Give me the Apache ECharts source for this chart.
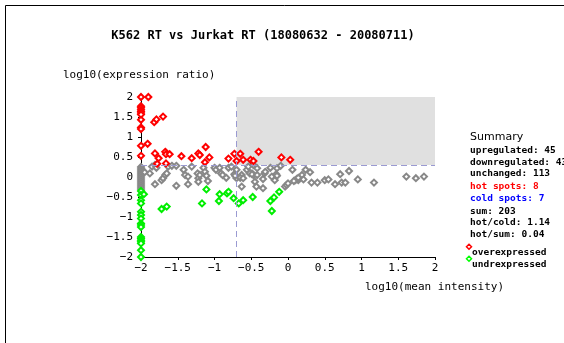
<!DOCTYPE html>
<html>
<head>
<meta charset="utf-8">
<script src="https://cdn.jsdelivr.net/npm/echarts@6/dist/echarts.min.js"></script>
<style>
  html, body { margin: 0; padding: 0; background: #fff; }
  #chart { width: 564px; height: 343px; }
</style>
</head>
<body>
<div id="chart"></div>
<script>
// Overexpressed spots (log10 mean intensity, log10 expression ratio)
const upX = [-2, -2, -2, -2, -2, -2, -2, -2, -2, -2, -2, -2,
  -1.90, -1.82, -1.79, -1.70, -1.91, -1.81, -1.76, -1.78, -1.67, -1.66, -1.61, -1.66,
  -1.45, -1.31, -1.22, -1.20, -1.12, -1.07, -1.13, -0.81, -0.73, -0.70, -0.65, -0.61,
  -0.51, -0.47, -0.40, -0.09, 0.03];
const upY = [2.0, 1.77, 1.73, 1.68, 1.64, 1.60, 1.56, 1.43, 1.24, 1.20, 0.78, 0.53,
  2.0, 1.37, 1.44, 1.51, 0.83, 0.59, 0.47, 0.33, 0.63, 0.57, 0.57, 0.34,
  0.52, 0.47, 0.59, 0.55, 0.75, 0.49, 0.37, 0.46, 0.58, 0.40, 0.58, 0.43,
  0.43, 0.40, 0.63, 0.49, 0.43];

// Underexpressed spots
const downX = [-2, -2, -2, -2, -2, -2, -2, -2, -2, -2, -2, -2, -2, -2, -2, -2, -2,
  -1.96, -1.72, -1.65, -1.17, -1.11, -0.93, -0.94, -0.83, -0.81, -0.74, -0.67, -0.61,
  -0.48, -0.24, -0.19, -0.12, -0.22];
const downY = [-0.35, -0.45, -0.58, -0.66, -0.87, -0.95, -1.04, -1.16, -1.20, -1.25,
  -1.50, -1.54, -1.58, -1.62, -1.66, -1.83, -2.0,
  -0.43, -0.80, -0.74, -0.66, -0.31, -0.43, -0.60, -0.41, -0.37, -0.53, -0.66, -0.58,
  -0.50, -0.60, -0.51, -0.37, -0.85];

// Unchanged spots
const flatX = [-2, -2, -2, -2, -2, -2, -2, -2, -2, -2, -2, -2,
  -1.95, -1.88, -1.85, -1.81, -1.79, -1.81, -1.72, -1.70, -1.67, -1.65, -1.63, -1.58,
  -1.52, -1.52, -1.42, -1.40, -1.36, -1.36, -1.31, -1.23, -1.22, -1.22, -1.20, -1.15,
  -1.13, -1.11, -1.09, -1.00, -0.98, -0.93, -0.91, -0.89, -0.84, -0.81, -0.77, -0.73,
  -0.70, -0.63, -0.63, -0.56, -0.49, -0.47, -0.42,
  -0.70, -0.72, -0.65, -0.61, -0.54, -0.52, -0.49, -0.47, -0.45, -0.42, -0.43, -0.34,
  -0.34, -0.32, -0.31, -0.24, -0.22, -0.18, -0.16, -0.15, -0.15, -0.10, -0.04, -0.02,
  0.00, 0.06, 0.14, 0.16, 0.19, 0.21, 0.24, 0.30, 0.32, 0.40, 0.50, 0.55, 0.64, 0.71,
  0.73, 0.78, 0.83, 0.95, 1.17, 1.61, 1.74, 1.85,
  0.10, 0.12, 0.08, 0.14];
const flatY = [0.25, 0.2, 0.15, 0.1, 0.05, 0, -0.05, -0.1, -0.15, -0.2, -0.25, -0.3,
  0.12, 0.09, 0.26, 0.30, 0.23, -0.18, -0.08, -0.03, 0.05, 0.09, 0.26, 0.28,
  0.28, -0.22, 0.18, 0.05, 0.01, -0.18, 0.26, 0.09, -0.03, -0.12, 0.05, 0.23,
  0.13, 0.03, -0.10, 0.23, 0.18, 0.23, 0.09, 0.05, -0.02, 0.23, 0.26, 0.07,
  -0.03, -0.24, 0.05, 0.18, 0.09, 0.05, 0.22,
  0.18, 0.03, -0.02, -0.03, 0.26, 0.09, 0.07, 0.30, -0.12, 0.05, -0.24, -0.28,
  -0.05, 0.09, 0.13, 0.23, 0.01, -0.08, 0.07, 0.03, 0.22, 0.28, -0.24, -0.20,
  -0.16, 0.18, -0.08, -0.03, 0.05, -0.06, 0.18, 0.12, -0.14, -0.14, -0.08, -0.06, -0.18, 0.07,
  -0.14, -0.14, 0.15, -0.06, -0.14, 0.01, -0.03, 0.01,
  -0.08, -0.05, -0.10, -0.02];

// Axis ranges and thresholds
const xRange = [-2, 2];
const yRange = [-2, 2];
const tickStep = 0.5;
const intensityCut = -0.7;
const ratioCut = 0.3;

// Summary panel lines
const summaryLines = [
  { text: 'upregulated: 45', color: '#000' },
  { text: 'downregulated: 43', color: '#000' },
  { text: 'unchanged: 113', color: '#000' },
  { text: 'hot spots: 8', color: '#ff0000' },
  { text: 'cold spots: 7', color: '#0000ff' },
  { text: 'sum: 203', color: '#000' },
  { text: 'hot/cold: 1.14', color: '#000' },
  { text: 'hot/sum: 0.04', color: '#000' }
];
const legendItems = [
  { text: 'overexpressed', color: '#ff0000' },
  { text: 'undrexpressed', color: '#00ff00' }
];

const zip = (xs, ys) => xs.map((x, i) => [x, ys[i]]);
const mono = 'DejaVu Sans Mono';
const minus = v => String(v).replace('-', '\u2212');

function markerSeries(name, color, xs, ys) {
  return {
    name, type: 'scatter', z: 3,
    symbol: 'diamond', symbolSize: 6,
    itemStyle: { color: '#fff', borderColor: color, borderWidth: 2, opacity: 1 },
    emphasis: { disabled: true },
    data: zip(xs, ys)
  };
}

const summaryStartY = 151;
const summaryStep = [0, 11.7, 22.7, 35.7, 47.7, 60.7, 71.7, 83.3];
const graphics = [
  // frame
  { type: 'line', shape: { x1: 5.5, y1: 5.5, x2: 564, y2: 5.5 }, style: { stroke: '#000', lineWidth: 1 } },
  { type: 'line', shape: { x1: 5.5, y1: 5.5, x2: 5.5, y2: 343 }, style: { stroke: '#000', lineWidth: 1 } },
  { type: 'text', x: 263, y: 36, style: { text: 'K562 RT vs Jurkat RT (18080632 - 20080711)', font: 'bold 12px ' + mono, fill: '#000', align: 'center', verticalAlign: 'middle' } },
  { type: 'text', x: 63, y: 75, style: { text: 'log10(expression ratio)', font: '11px ' + mono, fill: '#000', align: 'left', verticalAlign: 'middle' } },
  { type: 'text', x: 365, y: 287, style: { text: 'log10(mean intensity)', font: '11px ' + mono, fill: '#000', align: 'left', verticalAlign: 'middle' } },
  { type: 'text', x: 470, y: 137.5, style: { text: 'Summary', font: '11px DejaVu Sans', fill: '#000', align: 'left', verticalAlign: 'middle' } }
];
summaryLines.forEach((l, i) => {
  graphics.push({ type: 'text', x: 470, y: summaryStartY + summaryStep[i],
    style: { text: l.text, font: 'bold 9.5px ' + mono, fill: l.color, align: 'left', verticalAlign: 'middle' } });
});
legendItems.forEach((l, i) => {
  const y = 252.3 + i * 12;
  graphics.push({ type: 'polygon', shape: { points: [[469, y - 8], [471.5, y - 5.5], [469, y - 3], [466.5, y - 5.5]] },
    style: { fill: '#fff', stroke: l.color, lineWidth: 1.5 } });
  graphics.push({ type: 'text', x: 472, y,
    style: { text: l.text, font: 'bold 9.5px ' + mono, fill: '#000', align: 'left', verticalAlign: 'middle' } });
});

const axisCommon = {
  type: 'value', interval: tickStep,
  axisLine: { show: true, onZero: false, lineStyle: { color: '#000', width: 1 } },
  axisTick: { show: true, length: 3, lineStyle: { color: '#000' } },
  splitLine: { show: false },
  axisLabel: { color: '#000', fontFamily: mono, fontSize: 11, formatter: minus }
};

const chart = echarts.init(document.getElementById('chart'), null, { renderer: 'canvas' });
chart.setOption({
  animation: false,
  backgroundColor: '#fff',
  grid: { left: 141, top: 97, width: 294, height: 160, containLabel: false },
  xAxis: Object.assign({}, axisCommon, { min: xRange[0], max: xRange[1],
    axisLabel: Object.assign({}, axisCommon.axisLabel, { margin: 6 }) }),
  yAxis: Object.assign({}, axisCommon, { min: yRange[0], max: yRange[1],
    axisLabel: Object.assign({}, axisCommon.axisLabel, { margin: 8 }) }),
  graphic: graphics,
  series: [
    {
      type: 'scatter', z: 1, data: [], silent: true,
      markArea: {
        silent: true,
        itemStyle: { color: '#e0e0e0' },
        data: [[{ coord: [intensityCut, ratioCut] }, { coord: [xRange[1], yRange[1]] }]]
      },
      markLine: {
        silent: true, symbol: 'none', label: { show: false },
        lineStyle: { color: '#9a9ad2', type: [6, 4], width: 1 },
        data: [
          [{ coord: [intensityCut, yRange[0]] }, { coord: [intensityCut, yRange[1]] }],
          [{ coord: [xRange[0], ratioCut] }, { coord: [xRange[1], ratioCut] }]
        ]
      }
    },
    markerSeries('unchanged', '#888888', flatX, flatY),
    markerSeries('overexpressed', '#ff0000', upX, upY),
    markerSeries('undrexpressed', '#00ee00', downX, downY)
  ]
});
</script>
</body>
</html>
